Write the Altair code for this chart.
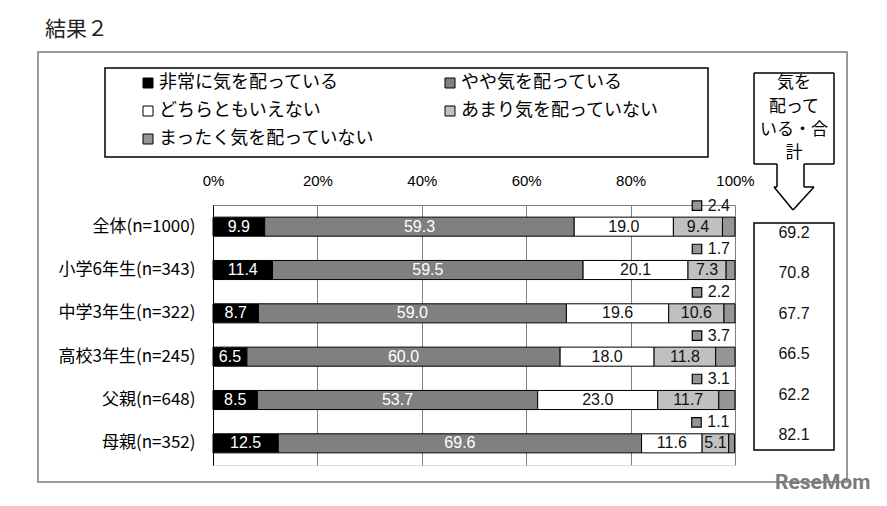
import altair as alt
import pandas as pd

# ---------------- data ----------------
cats = ["全体(n=1000)", "小学6年生(n=343)", "中学3年生(n=322)",
        "高校3年生(n=245)", "父親(n=648)", "母親(n=352)"]
resp = ["非常に気を配っている", "やや気を配っている", "どちらともいえない",
        "あまり気を配っていない", "まったく気を配っていない"]
v_very = [9.9, 11.4, 8.7, 6.5, 8.5, 12.5]
v_some = [59.3, 59.5, 59.0, 60.0, 53.7, 69.6]
v_neither = [19.0, 20.1, 19.6, 18.0, 23.0, 11.6]
v_notmuch = [9.4, 7.3, 10.6, 11.8, 11.7, 5.1]
v_notatall = [2.4, 1.7, 2.2, 3.7, 3.1, 1.1]
totals = [69.2, 70.8, 67.7, 66.5, 62.2, 82.1]
tick_values = [0, 20, 40, 60, 80, 100]
title_text = "結果２"
callout_lines = ["気を", "配って", "いる・合", "計"]
colors = ["#000000", "#808080", "#ffffff", "#c0c0c0", "#969696"]

series = [v_very, v_some, v_neither, v_notmuch, v_notatall]
rows = []
for i, c in enumerate(cats):
    for j, r in enumerate(resp):
        rows.append({"cat": c, "resp": r, "ord": j, "value": series[j][i],
                     "lbl": f"{series[j][i]:.1f}"})
df = pd.DataFrame(rows)
df_tot = pd.DataFrame({"cat": cats, "lbl": [f"{t:.1f}" for t in totals]})
one = pd.DataFrame({"a": [0]})

# legend is filled column by column: arrange so it reads row by row (2 columns)
leg_order = [0, 2, 4, 1, 3]
leg_domain = [resp[k] for k in leg_order]
leg_range = [colors[k] for k in leg_order]

JP = "Noto Sans CJK JP"
NUM = "Liberation Sans"

W, H = 522, 260

xscale = alt.Scale(domain=[0, 100], clamp=True, nice=False)
yscale = alt.Scale(domain=cats, paddingInner=0.56, paddingOuter=0.28)
xaxis = alt.Axis(orient="top", values=tick_values, labelExpr="datum.value + '%'",
                 grid=True, gridColor="#808080", gridWidth=1, ticks=False,
                 domain=True, domainColor="#808080", labelFont=NUM,
                 labelFontSize=15, labelColor="black", labelPadding=17,
                 labelFlush=False, title=None)
yaxis = alt.Axis(title=None, ticks=False, labelFont=JP, labelFontSize=17,
                 labelColor="black", labelPadding=18, domainColor="black",
                 domainWidth=1, grid=False)
legend = alt.Legend(title=None, orient="none", legendX=-74, legendY=-131,
                    columns=2, columnPadding=66, rowPadding=10,
                    symbolType="square", symbolSize=100,
                    symbolStrokeColor="black", symbolStrokeWidth=1,
                    labelFont=JP, labelFontSize=18, labelColor="black",
                    labelOffset=2, padding=0, labelLimit=400)

# ---------------- decorations ----------------
frame = alt.Chart(one).mark_rect(fillOpacity=0, stroke="#9a9a9a", strokeWidth=2).encode(
    x=alt.value(-175), x2=alt.value(634), y=alt.value(-153), y2=alt.value(277))
title = alt.Chart(one).mark_text(text=title_text, font=JP, fontSize=21, color="#222",
                                 align="left", baseline="middle").encode(
    x=alt.value(-168), y=alt.value(-175))
legbox = alt.Chart(one).mark_rect(fillOpacity=0, stroke="black", strokeWidth=1.5).encode(
    x=alt.value(-108), x2=alt.value(495), y=alt.value(-137), y2=alt.value(-48))
valbox = alt.Chart(one).mark_rect(fillOpacity=0, stroke="black", strokeWidth=1.5).encode(
    x=alt.value(541), x2=alt.value(621), y=alt.value(18), y2=alt.value(245))

segs = [
    (541, -132, 621, -132), (541, -132, 541, -41), (621, -132, 621, -41),
    (541, -41, 564, -41), (591, -41, 621, -41),
    (564, -41, 564, -18), (591, -41, 591, -18),
    (564, -18, 561, -18), (591, -18, 601, -18),
    (561, -18, 580, 5), (601, -18, 580, 5),
]
callout_layers = [
    alt.Chart(one).mark_rule(color="black", strokeWidth=1.5).encode(
        x=alt.value(a), y=alt.value(b), x2=alt.value(c), y2=alt.value(d))
    for (a, b, c, d) in segs
]
callout_ys = [-122, -98, -75, -52]
callout_texts = [
    alt.Chart(one).mark_text(text=t, font=JP, fontSize=17, color="black",
                             align="center", baseline="middle").encode(
        x=alt.value(581), y=alt.value(yy))
    for t, yy in zip(callout_lines, callout_ys)
]
watermark = alt.Chart(one).mark_text(text="ReseMom", font="Roboto", fontSize=21,
                                     fontWeight="bold", color="#7a7a7a",
                                     align="left", baseline="middle").encode(
    x=alt.value(562), y=alt.value(278))

# ---------------- data layers ----------------
base = alt.Chart(df).transform_stack(
    stack="value", groupby=["cat"], sort=[alt.SortField("ord")], as_=["v0", "v1"]
).transform_calculate(mid="(datum.v0 + datum.v1) / 2")

Y = alt.Y("cat:N", scale=yscale, axis=yaxis)

bars = base.mark_bar(stroke="black", strokeWidth=1).encode(
    x=alt.X("v0:Q", scale=xscale, axis=xaxis),
    x2="v1:Q",
    y=Y,
    color=alt.Color("resp:N", scale=alt.Scale(domain=leg_domain, range=leg_range),
                    legend=legend),
)
lbl_white = base.transform_filter("datum.ord < 2").mark_text(
    font=NUM, fontSize=16, color="white", baseline="middle").encode(
    x=alt.X("mid:Q", scale=xscale, axis=xaxis), y=Y, text="lbl:N")
lbl_black = base.transform_filter("datum.ord >= 2 && datum.ord < 4").mark_text(
    font=NUM, fontSize=16, color="#111", baseline="middle").encode(
    x=alt.X("mid:Q", scale=xscale, axis=xaxis), y=Y, text="lbl:N")
top_sq = base.transform_filter("datum.ord == 4").mark_square(
    size=90, filled=True, fill="#969696", stroke="black", strokeWidth=1.2, opacity=1,
    xOffset=-38, yOffset=-21).encode(
    x=alt.X("v1:Q", scale=xscale, axis=xaxis), y=Y)
top_lbl = base.transform_filter("datum.ord == 4").mark_text(
    font=NUM, fontSize=16, color="#111", align="right", baseline="middle",
    dx=-5, dy=-21).encode(
    x=alt.X("v1:Q", scale=xscale, axis=xaxis), y=Y, text="lbl:N")
tot_lbl = alt.Chart(df_tot).mark_text(font=NUM, fontSize=16, color="#111",
                                      baseline="middle", align="center").encode(
    x=alt.value(581),
    y=alt.Y("cat:N", scale=alt.Scale(type="point", domain=cats, range=[28, 230],
                                     padding=0), axis=None),
    text="lbl:N")

main = alt.layer(bars, lbl_white, lbl_black, top_sq, top_lbl)

chart = alt.layer(
    frame, title, legbox, valbox, *callout_layers, *callout_texts,
    main, tot_lbl, watermark,
).resolve_scale(y="independent").properties(
    width=W, height=H,
    autosize=alt.AutoSizeParams(type="none"),
    padding={"left": 205, "top": 197, "right": 144, "bottom": 33},
).configure_view(strokeWidth=0).configure(background="white")

chart.save("out.html", embed_options={"renderer": "svg", "actions": False})
